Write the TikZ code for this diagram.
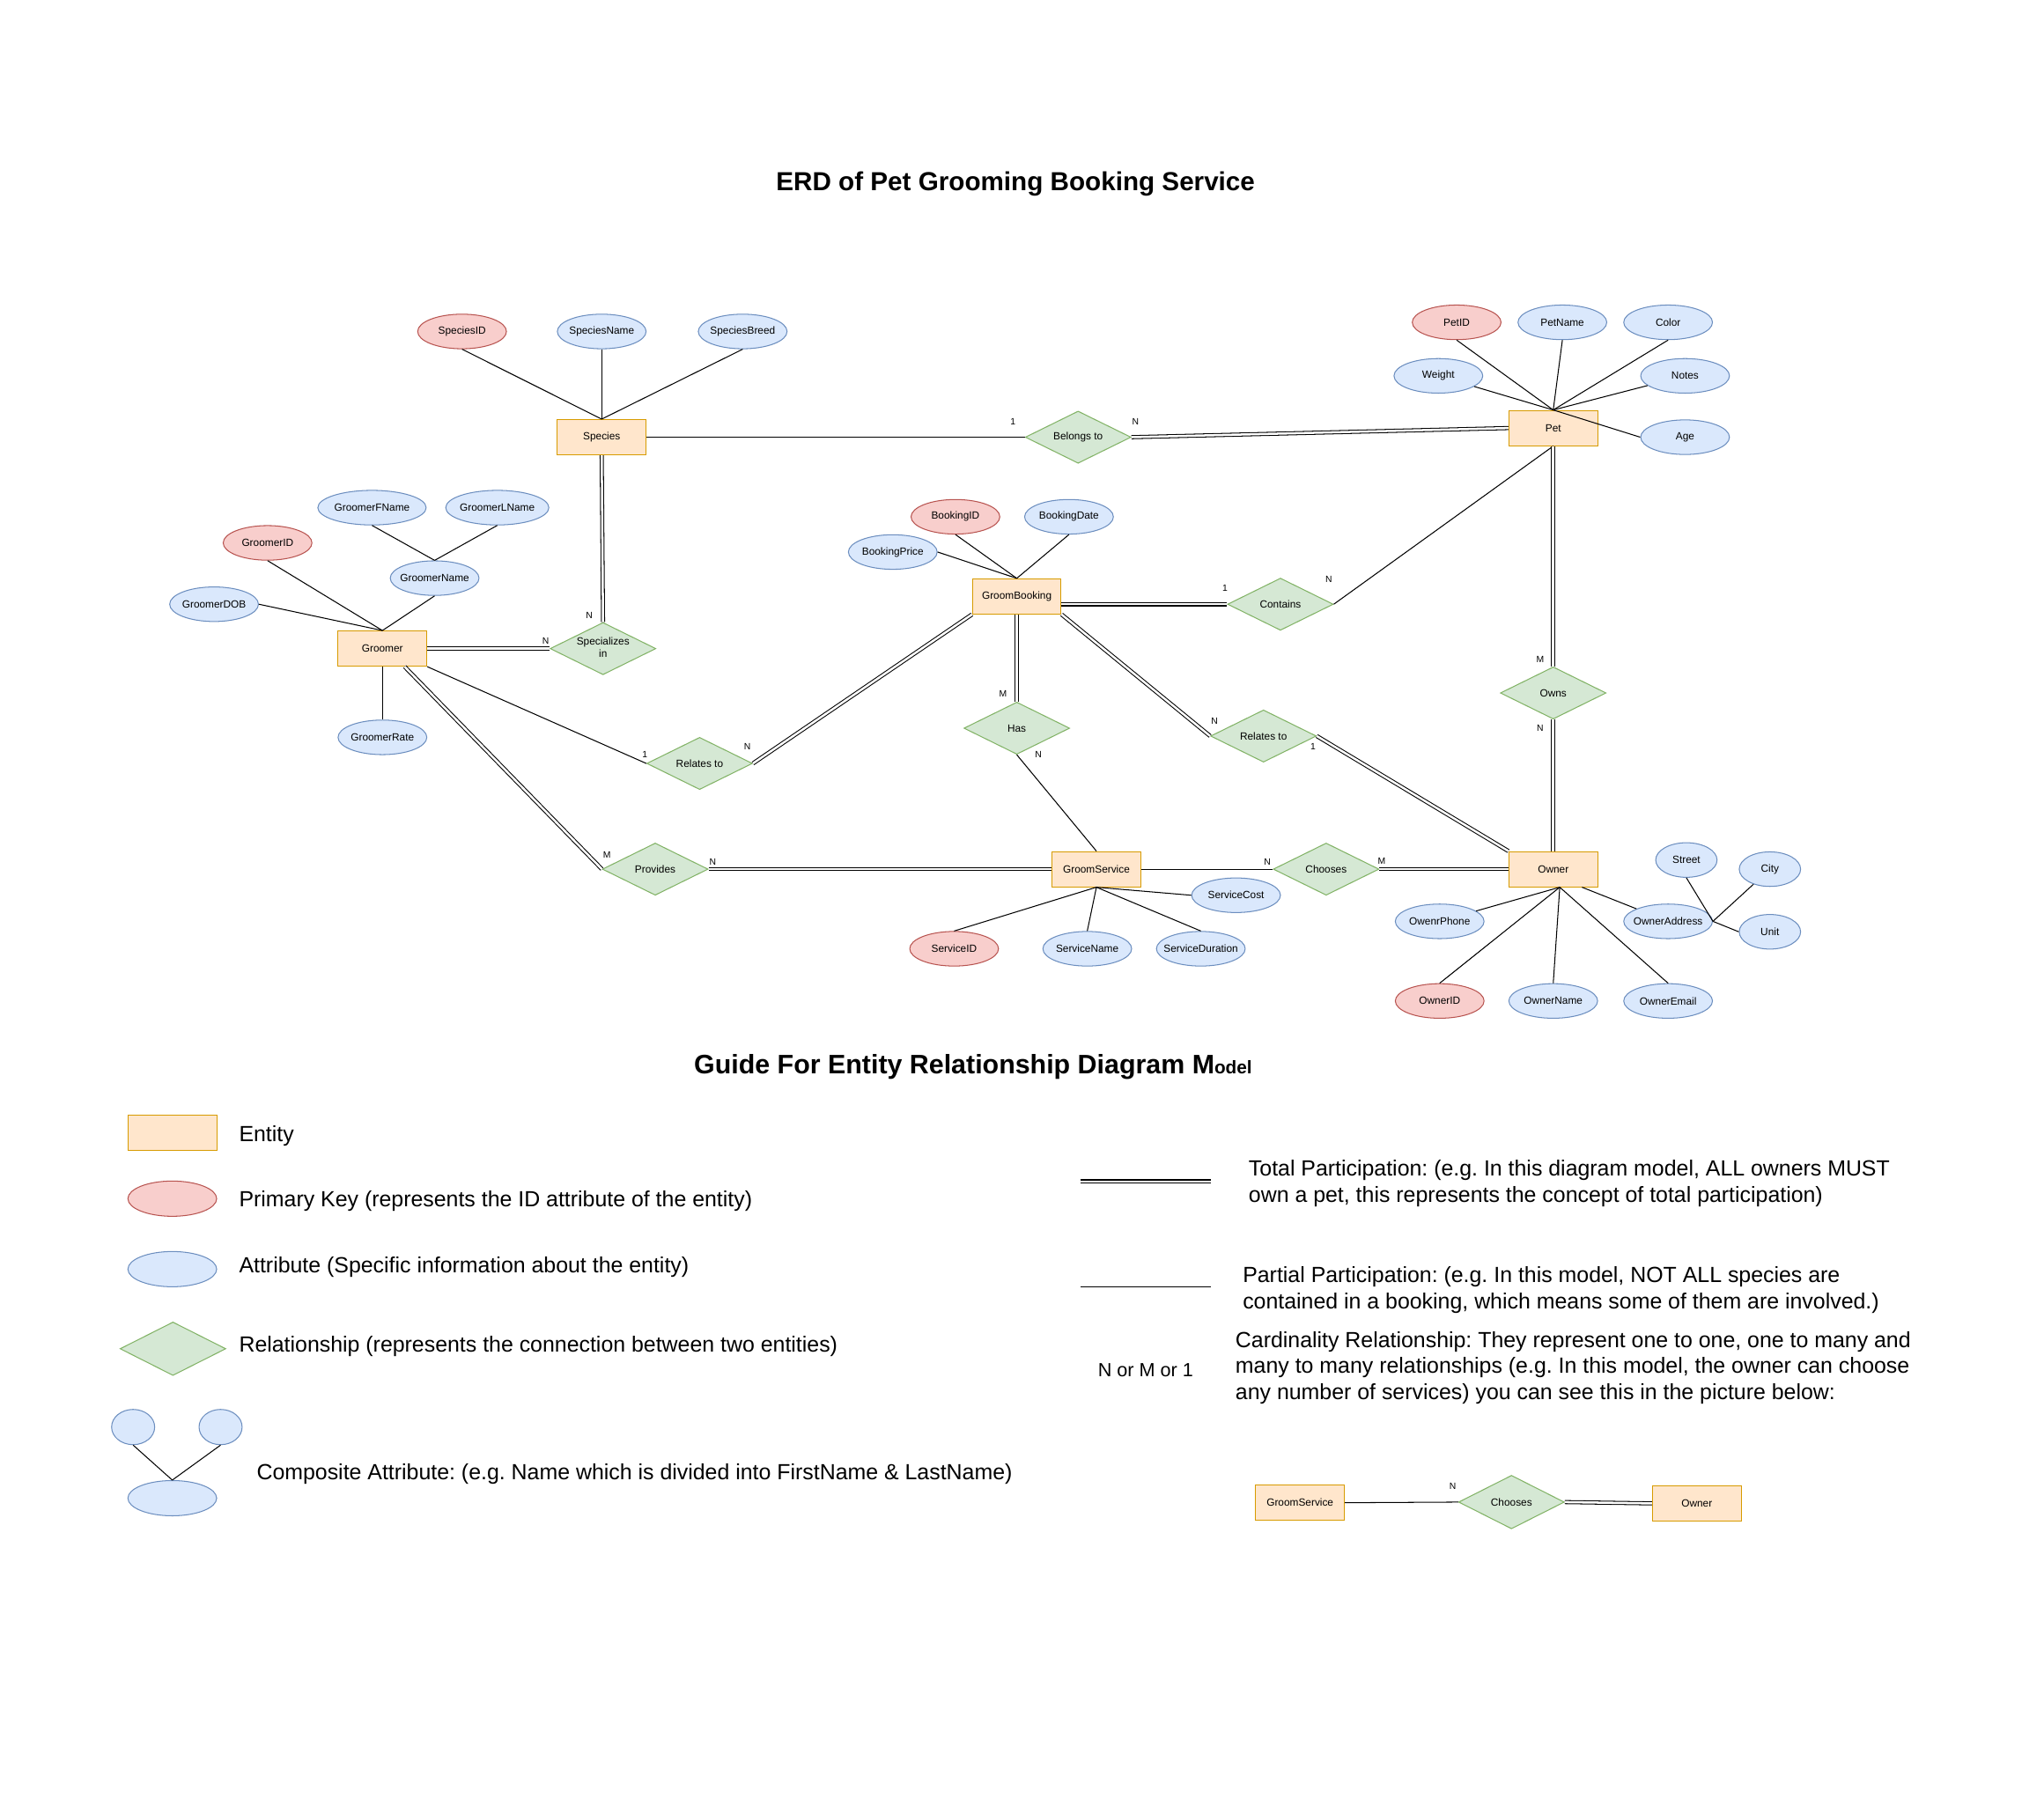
\documentclass[tikz,border=0pt]{standalone}
\usepackage{fontspec}
\setmainfont{Liberation Sans}
\usetikzlibrary{shapes.geometric}

\definecolor{entfill}{HTML}{FFE6CC}
\definecolor{entline}{HTML}{D79B00}
\definecolor{keyfill}{HTML}{F8CECC}
\definecolor{keyline}{HTML}{B85450}
\definecolor{attrfill}{HTML}{DAE8FC}
\definecolor{attrline}{HTML}{6C8EBF}
\definecolor{relfill}{HTML}{D5E8D4}
\definecolor{relline}{HTML}{82B366}

\tikzset{nodetext/.style = {font=\fontsize{8}{9.6}\selectfont, inner sep=0pt, line width=0.7pt,
    execute at begin node={\hbox to 0pt\bgroup\hss}, execute at end node={\hss\egroup}},%
  entity/.style = {nodetext, rectangle, draw=entline, fill=entfill,
    minimum width=68pt, minimum height=27pt},%
  keyattr/.style = {nodetext, ellipse, draw=keyline, fill=keyfill,
    minimum width=68pt, minimum height=26.5pt},%
  attr/.style = {nodetext, ellipse, draw=attrline, fill=attrfill,
    minimum width=68pt, minimum height=26.5pt},%
  rel/.style = {nodetext, diamond, draw=relline, fill=relfill,
    minimum width=81pt, minimum height=40pt},%
  card/.style = {font=\fontsize{7}{8}\selectfont, inner sep=0pt},%
  link/.style = {draw, line width=0.7pt},%
  total/.style = {draw, double, double distance=1.7pt, line width=0.7pt},%
  legendtext/.style = {font=\fontsize{16.8}{20}\selectfont, inner sep=0pt, anchor=base west}}
\newcommand{\legendlines}[1]{\begin{tabular}[t]{@{}l@{}}#1\end{tabular}}
\frenchspacing

\begin{document}
\begin{tikzpicture}[x=1pt, y=-1pt]
  \path[use as bounding box, fill=white] (0,0) rectangle (1566,1394.6);
  \node[anchor=base west, inner sep=0pt, font=\fontsize{20}{24}\selectfont\bfseries] (title) at (594.5,146)
    {ERD of Pet Grooming Booking Service};

  % species
  \node[entity] (species) at (461,335) {Species};
  \node[keyattr] (speciesID) at (354,254) {SpeciesID};
  \node[attr] (speciesName) at (461,254) {SpeciesName};
  \node[attr] (speciesBreed) at (569,254) {SpeciesBreed};
  \node[rel] (belongs) at (826,335) {Belongs to};

  % groomer
  \node[entity] (groomer) at (293,497) {Groomer};
  \node[keyattr] (groomerID) at (205,416) {GroomerID};
  \node[attr] (groomerDOB) at (164,463) {GroomerDOB};
  \node[attr] (groomerName) at (333,443) {GroomerName};
  \node[attr, minimum width=83pt] (groomerFName) at (285,389) {GroomerFName};
  \node[attr, minimum width=79pt] (groomerLName) at (381,389) {GroomerLName};
  \node[attr] (groomerRate) at (293,565) {GroomerRate};
  \node[rel] (specializes) at (462,497) {\begin{tabular}{@{}c@{}}Specializes\\in\end{tabular}};

  % booking
  \node[entity] (booking) at (779,457) {GroomBooking};
  \node[keyattr] (bookingID) at (732,396) {BookingID};
  \node[attr] (bookingDate) at (819,396) {BookingDate};
  \node[attr] (bookingPrice) at (684,423) {BookingPrice};
  \node[rel] (contains) at (981,463) {Contains};
  \node[rel] (relGroomer) at (536,585) {Relates to};
  \node[rel] (has) at (779,558) {Has};
  \node[rel] (relOwner) at (968,564) {Relates to};

  % service
  \node[entity] (service) at (840,666) {GroomService};
  \node[keyattr] (serviceID) at (731,727) {ServiceID};
  \node[attr] (serviceName) at (833,727) {ServiceName};
  \node[attr] (serviceDuration) at (920,727) {ServiceDuration};
  \node[attr] (serviceCost) at (947,686) {ServiceCost};
  \node[rel] (provides) at (502,666) {Provides};
  \node[rel] (chooses) at (1016,666) {Chooses};

  % pet
  \node[entity] (pet) at (1190,328) {Pet};
  \node[keyattr] (petID) at (1116,247) {PetID};
  \node[attr] (petName) at (1197,247) {PetName};
  \node[attr] (petColor) at (1278,247) {Color};
  \node[attr] (petWeight) at (1102,288) {Weight};
  \node[attr] (petNotes) at (1291,288) {Notes};
  \node[attr] (petAge) at (1291,335) {Age};
  \node[rel] (owns) at (1190,531) {Owns};

  % owner
  \node[entity] (owner) at (1190,666) {Owner};
  \node[attr] (ownerPhone) at (1103,706) {OwenrPhone};
  \node[keyattr] (ownerID) at (1103,767) {OwnerID};
  \node[attr] (ownerName) at (1190,767) {OwnerName};
  \node[attr] (ownerEmail) at (1278,767) {OwnerEmail};
  \node[attr] (ownerAddress) at (1278,706) {OwnerAddress};
  \node[attr, minimum width=47pt] (street) at (1292,659) {Street};
  \node[attr, minimum width=47pt] (city) at (1356,666) {City};
  \node[attr, minimum width=47pt] (unit) at (1356,714) {Unit};

  % attribute links
  \draw[link] (speciesID.south) -- (species.north);
  \draw[link] (speciesName.south) -- (species.north);
  \draw[link] (speciesBreed.south) -- (species.north);
  \draw[link] (groomerID.south) -- (groomer.north);
  \draw[link] (groomerDOB.east) -- (groomer.north);
  \draw[link] (groomerName.south) -- (groomer.north);
  \draw[link] (groomerFName.south) -- (groomerName.north);
  \draw[link] (groomerLName.south) -- (groomerName.north);
  \draw[link] (groomer.south) -- (groomerRate.north);
  \draw[link] (bookingID.south) -- (booking.north);
  \draw[link] (bookingDate.south) -- (booking.north);
  \draw[link] (bookingPrice.east) -- (booking.north);
  \draw[link] (service.south) -- (serviceID.north);
  \draw[link] (service.south) -- (serviceName.north);
  \draw[link] (service.south) -- (serviceDuration.north);
  \draw[link] (service.south) -- (serviceCost.west);
  \draw[link] (petID.south) -- (pet.north);
  \draw[link] (petName.south) -- (pet.north);
  \draw[link] (petColor.south) -- (pet.north);
  \draw[link] (petWeight) -- (pet.north);
  \draw[link] (petNotes) -- (pet.north);
  \draw[link] (petAge.west) -- (pet.north);
  \draw[link] ([xshift=5pt]owner.south) -- (ownerPhone);
  \draw[link] ([xshift=5pt]owner.south) -- (ownerID.north);
  \draw[link] ([xshift=5pt]owner.south) -- (ownerName.north);
  \draw[link] ([xshift=5pt]owner.south) -- (ownerEmail.north);
  \draw[link] ([xshift=22pt]owner.south) -- (ownerAddress);
  \draw[link] (street.south) -- (ownerAddress.east);
  \draw[link] (city) -- (ownerAddress.east);
  \draw[link] (unit.west) -- (ownerAddress.east);

  % relationships
  \draw[link] (species.east) -- (belongs.west);
  \draw[total] (belongs.east) -- (pet.west);
  \draw[total] (species.south) -- (specializes.north);
  \draw[total] (groomer.east) -- (specializes.west);
  \draw[link] (groomer.south east) -- (relGroomer.west);
  \draw[total] (booking.south west) -- (relGroomer.east);
  \draw[total] ([xshift=17pt]groomer.south) -- (provides.west);
  \draw[total] (provides.east) -- (service.west);
  \draw[total] (booking.east |- contains.west) -- (contains.west);
  \draw[link] (pet.south) -- (contains.east);
  \draw[total] (booking.south) -- (has.north);
  \draw[link] (has.south) -- (service.north);
  \draw[total] (booking.south east) -- (relOwner.west);
  \draw[total] (relOwner.east) -- (owner.north west);
  \draw[link] (service.east) -- (chooses.west);
  \draw[total] (chooses.east) -- (owner.west);
  \draw[total] (pet.south) -- (owns.north);
  \draw[total] (owns.south) -- (owner.north);

  % cardinalities
  \node[card] (cBelongsSpecies) at (776,323) {1};
  \node[card] (cBelongsPet) at (870,323) {N};
  \node[card] (cSpecSpecies) at (451.5,471.5) {N};
  \node[card] (cSpecGroomer) at (418,491) {N};
  \node[card] (cContainsBooking) at (938.5,450.5) {1};
  \node[card] (cContainsPet) at (1018,444) {N};
  \node[card] (cHasBooking) at (768.5,531.5) {M};
  \node[card] (cHasService) at (795.5,578.5) {N};
  \node[card] (cRelOwnerBooking) at (930.5,552.5) {N};
  \node[card] (cRelOwnerOwner) at (1006,572) {1};
  \node[card] (cRelGroomerBooking) at (572.5,572) {N};
  \node[card] (cRelGroomerGroomer) at (494,578.5) {1};
  \node[card] (cOwnsPet) at (1180,505) {M};
  \node[card] (cOwnsOwner) at (1180,558) {N};
  \node[card] (cProvidesGroomer) at (465,655) {M};
  \node[card] (cProvidesService) at (546,660.5) {N};
  \node[card] (cChoosesService) at (971,660.5) {N};
  \node[card] (cChoosesOwner) at (1058.5,660) {M};

  % guide
  \node[anchor=base west, inner sep=0pt, font=\fontsize{20.5}{24}\selectfont\bfseries] (guide) at (531.6,823)
    {Guide For Entity Relationship Diagram M{\fontsize{14}{16}\selectfont odel}};
  \node[entity] (lgEntity) at (132,868) {};
  \node[keyattr, minimum height=27pt] (lgKey) at (132,918.5) {};
  \node[attr, minimum height=27pt] (lgAttr) at (132,972.5) {};
  \node[rel, minimum height=41pt] (lgRel) at (132.5,1033.5) {};
  \node[attr, minimum width=33pt, minimum height=27pt] (lgPartA) at (102,1093.5) {};
  \node[attr, minimum width=33pt, minimum height=27pt] (lgPartB) at (169,1093.5) {};
  \node[attr, minimum height=27pt] (lgWhole) at (132,1148) {};
  \draw[link] (lgPartA.south) -- (lgWhole.north);
  \draw[link] (lgPartB.south) -- (lgWhole.north);
  \node[legendtext] (lgEntityText) at (183,875) {Entity};
  \node[legendtext] (lgKeyText) at (183,925) {Primary Key (represents the ID attribute of the entity)};
  \node[legendtext] (lgAttrText) at (183,975.5) {Attribute (Specific information about the entity)};
  \node[legendtext] (lgRelText) at (183,1036) {Relationship (represents the connection between two entities)};
  \node[legendtext] (lgWholeText) at (196.5,1134)
    {Composite Attribute: (e.g. Name which is divided into FirstName \& LastName)};

  \coordinate (totalA) at (828,905.3);
  \coordinate (totalB) at (928,905.3);
  \draw[total] (totalA) -- (totalB);
  \coordinate (partialA) at (828,986);
  \coordinate (partialB) at (928,986);
  \draw[link] (partialA) -- (partialB);
  \node[legendtext] (lgTotalText) at (956.5,901)
    {\legendlines{Total Participation: (e.g. In this diagram model, ALL owners MUST\\own a pet, this represents the concept of total participation)}};
  \node[legendtext] (lgPartialText) at (952,983)
    {\legendlines{Partial Participation: (e.g. In this model, NOT ALL species are\\contained in a booking, which means some of them are involved.)}};
  \node[legendtext, font=\fontsize{14.6}{17}\selectfont] (lgCardSymbol) at (841,1055) {N or M or 1};
  \node[legendtext] (lgCardText) at (946.4,1032.4)
    {\legendlines{Cardinality Relationship: They represent one to one, one to many and\\many to many relationships (e.g. In this model, the owner can choose\\any number of services) you can see this in the picture below:}};

  % example
  \node[entity] (exService) at (996,1151.5) {GroomService};
  \node[rel, minimum height=41pt] (exChooses) at (1158,1151) {Chooses};
  \node[entity] (exOwner) at (1300,1152) {Owner};
  \draw[link] (exService.east) -- (exChooses.west);
  \draw[total] (exChooses.east) -- (exOwner.west);
  \node[card] (exCard) at (1113,1139) {N};
\end{tikzpicture}
\end{document}
